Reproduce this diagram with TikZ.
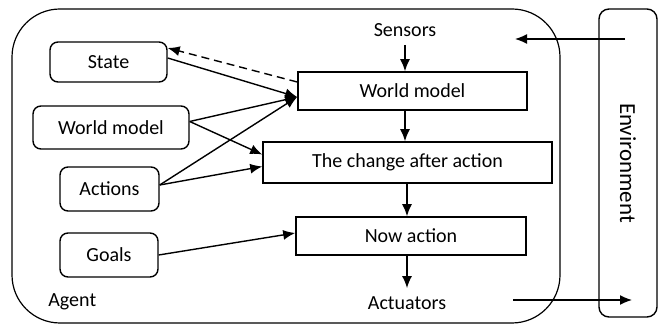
\documentclass[tikz,border=0pt]{standalone}
\usepackage{fontspec}
\setmainfont{Carlito}
\usetikzlibrary{arrows.meta,positioning,calc}
\tikzset{
    sideBox/.style={rectangle, rounded corners=4pt, draw=black, line width=0.7pt, inner sep=0pt},
    mainBox/.style={rectangle, draw=black, line width=0.8pt, inner sep=0pt},
    plainText/.style={inner sep=0pt},
    flow/.style={->, line width=0.7pt},
    feedback/.style={->, line width=0.7pt, dash pattern=on 4pt off 2.5pt}
}

\begin{document}
\begin{tikzpicture}[>={Latex[length=6pt,width=5pt]}, x=0.5pt, y=-0.5pt]
\useasboundingbox (0,0) rectangle (659,325);

% agent frame and environment
\draw[line width=0.6pt, rounded corners=24pt] (12,9) rectangle (560,323);
\draw[line width=0.7pt, rounded corners=5pt] (599,9) rectangle (657,317);
\node[plainText, rotate=-90, font=\fontsize{11.5}{13}\selectfont] (env) at (628,163) {Environment};
\node[plainText, anchor=west] (agent) at (48,302) {Agent};

% knowledge boxes
\node[sideBox, minimum width=58.5pt, minimum height=20pt] (state) at (108.5,62) {State};
\node[sideBox, minimum width=78pt, minimum height=21.5pt] (wmL) at (111,127.5) {World model};
\node[sideBox, minimum width=49.5pt, minimum height=22pt] (actions) at (109.5,189) {Actions};
\node[sideBox, minimum width=49pt, minimum height=22pt] (goals) at (109,255) {Goals};

% processing chain
\node[plainText] (sensors) at (405,30) {Sensors};
\node[mainBox, minimum width=114.5pt, minimum height=19pt] (wmR) at (412.5,91) {World model};
\node[mainBox, minimum width=144.5pt, minimum height=20.5pt] (change) at (407.5,162.5) {The change after action};
\node[mainBox, minimum width=115pt, minimum height=19pt] (nowAct) at (411,236) {Now action};
\node[plainText] (actuators) at (407,303) {Actuators};

\coordinate (envIn) at (625,39);
\coordinate (envInEnd) at (515,39);
\coordinate (actOut) at (513,300);
\coordinate (actOutEnd) at (632,300);

% vertical flow
\draw[flow] ([yshift=-4pt]sensors.south) -- (sensors.south |- wmR.north);
\draw[flow] (wmR.south -| sensors) -- (change.north -| sensors);
\draw[flow] (change.south -| actuators) -- (nowAct.north -| actuators);
\draw[flow] (nowAct.south -| actuators) -- ([yshift=4pt]actuators.north);
\draw[flow] (envIn) -- (envInEnd);
\draw[flow] (actOut) -- (actOutEnd);

% inputs from the knowledge boxes
\draw[flow] ([yshift=2pt]state.east) -- ([yshift=-3pt]wmR.west);
\draw[flow] ([yshift=3pt]wmL.east) -- ([yshift=-3pt]wmR.west);
\draw[flow] ([yshift=2pt]actions.east) -- ([yshift=-3pt]wmR.west);
\draw[flow] ([yshift=3pt]wmL.east) -- ([yshift=4pt]change.west);
\draw[flow] ([yshift=2pt]actions.east) -- ([yshift=-2pt]change.west);
\draw[flow] (goals.east) -- ([yshift=1.5pt]nowAct.west);
\draw[feedback] ([yshift=4.5pt]wmR.west) -- ([yshift=7pt]state.east);

\end{tikzpicture}
\end{document}
